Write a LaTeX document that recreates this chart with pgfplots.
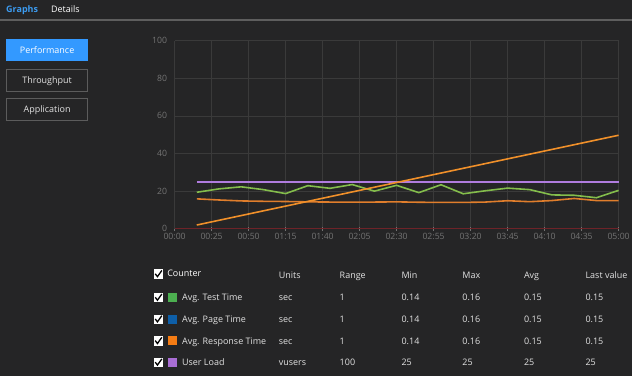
\documentclass[border=0pt]{standalone}
\usepackage{pgfplots}
\pgfplotsset{compat=1.18}
\usepackage{fontspec}
\setmainfont{Open Sans}
\definecolor{bg}{HTML}{252526}
\definecolor{tabblue}{HTML}{3C9BF0}
\definecolor{sepgray}{HTML}{5E5E5E}
\definecolor{btnblue}{HTML}{3399FF}
\definecolor{btngray}{HTML}{5C5C5C}
\definecolor{gridc}{HTML}{3A3A3A}
\definecolor{tickc}{HTML}{747474}
\definecolor{basered}{HTML}{6E2328}
\definecolor{txt}{HTML}{E2E2E2}
\definecolor{lgreen}{HTML}{84BD4C}
\definecolor{lpurple}{HTML}{B07CDE}
\definecolor{lorange}{HTML}{F0902A}
\definecolor{lorange2}{HTML}{E07E2C}
\definecolor{sqgreen}{HTML}{4CAF50}
\definecolor{sqblue}{HTML}{0E5FA8}
\definecolor{sqorange}{HTML}{F57C14}
\definecolor{sqpurple}{HTML}{A96ED4}
\pgfplotstableread{
t v
15 19.4
30 21.2
45 22.3
60 20.8
75 18.7
90 22.9
105 21.5
120 23.5
135 20.0
150 23.1
165 19.2
180 23.4
195 18.6
210 20.2
225 21.6
240 20.8
255 18.0
270 17.8
285 16.5
300 20.4
}\testtime
\pgfplotstableread{
t v
15 15.9
30 15.3
45 14.8
60 14.6
75 14.5
90 14.3
105 14.2
120 14.2
135 14.2
150 14.3
165 14.1
180 14.0
195 14.0
210 14.2
225 14.9
240 14.4
255 15.0
270 16.1
285 15.0
300 15.0
}\resptime
\pgfplotstableread{
t v
15 2.0
300 49.7
}\rising
\pgfplotstableread{
t v
15 25
300 25
}\userload
\begin{document}
\begin{tikzpicture}[x=1pt,y=1pt,
  lbl/.style={inner sep=0pt, text height=6.4pt, text depth=0pt, font=\fontsize{9}{11}\selectfont}]
\fill[bg] (0,0) rectangle (633,377);
% tabs
\node[lbl, anchor=west, text=tabblue, font=\fontsize{9}{11}\selectfont\bfseries] at (6,368) {Graphs};
\node[lbl, anchor=west, text=white] at (51,368) {Details};
\fill[sepgray] (0,356.3) rectangle (633,358.2);
% buttons
\fill[btnblue] (6,315.7) rectangle (88.3,338);
\node[lbl, text=white] at (47.2,326.9) {Performance};
\draw[btngray, line width=0.9pt] (6.5,285.7) rectangle (88,307.7);
\node[lbl, text=txt] at (47.2,296.7) {Throughput};
\draw[btngray, line width=0.9pt] (6.5,256) rectangle (88,278);
\node[lbl, text=txt] at (47.2,267) {Application};
% chart
\begin{axis}[at={(175pt,147.7pt)}, anchor=origin,
  scale only axis, width=445pt, height=188.6pt,
  xmin=0, xmax=300, ymin=0, ymax=100,
  axis x line*=bottom, axis y line*=left,
  x axis line style={draw=basered, line width=0.9pt},
  y axis line style={draw=gridc, line width=0.6pt},
  grid=major, grid style={draw=gridc, line width=0.6pt},
  xtick={0,25,...,300},
  xticklabels={00:00,00:25,00:50,01:15,01:40,02:05,02:30,02:55,03:20,03:45,04:10,04:35,05:00},
  ytick={0,20,40,60,80,100},
  /pgf/number format/assume math mode=true,
  tick label style={font=\fontsize{8.7}{10}\selectfont, text=tickc},
  xtick style={draw=tickc, line width=0.6pt}, ytick style={draw=none},
  tick align=center, major tick length=4pt,
  yticklabel style={xshift=-2pt},
  xticklabel style={yshift=1pt},
  clip=false]
\addplot[no marks, line width=1.6pt, lpurple] table[x=t,y=v] {\userload};
\addplot[no marks, line width=1.6pt, lorange2] table[x=t,y=v] {\resptime};
\addplot[no marks, line width=1.6pt, lgreen] table[x=t,y=v] {\testtime};
\addplot[no marks, line width=1.6pt, lorange] table[x=t,y=v] {\rising};
\end{axis}
% table
\def\chk#1#2{%
  \fill[white] (#1,#2-4.6) rectangle (#1+9.3,#2+4.6);
  \draw[black, line width=1.3pt] (#1+1.6,#2+0.3) -- (#1+3.8,#2-2.6) -- (#1+8.2,#2+3.6);}
\chk{154}{102.3}
\node[lbl, anchor=west, text=white] at (167.5,103) {Counter};
\foreach \x/\t in {279.3/Units,340.3/Range,402.3/Min,463.3/Max,525/Avg,586.7/Last value}
  \node[lbl, anchor=west, text=txt] at (\x,101.5) {\t};
\foreach \y/\c/\n/\u/\r/\a/\b/\v/\l in {
  78.7/sqgreen/Avg. Test Time/sec/1/0.14/0.16/0.15/0.15,
  57/sqblue/Avg. Page Time/sec/1/0.14/0.16/0.15/0.15,
  35.3/sqorange/Avg. Response Time/sec/1/0.14/0.16/0.15/0.15,
  13.7/sqpurple/User Load/vusers/100/25/25/25/25}{
  \chk{154}{\y}
  \fill[\c] (168.3,\y-4.5) rectangle (177.3,\y+4.5);
  \node[lbl, anchor=west, text=txt] at (182.3,\y) {\n};
  \node[lbl, anchor=west, text=txt] at (279.3,\y) {\u};
  \node[lbl, anchor=west, text=txt] at (340.3,\y) {\r};
  \node[lbl, anchor=west, text=txt] at (402.3,\y) {\a};
  \node[lbl, anchor=west, text=txt] at (463.3,\y) {\b};
  \node[lbl, anchor=west, text=txt] at (525,\y) {\v};
  \node[lbl, anchor=west, text=txt] at (586.7,\y) {\l};
}
\end{tikzpicture}
\end{document}
